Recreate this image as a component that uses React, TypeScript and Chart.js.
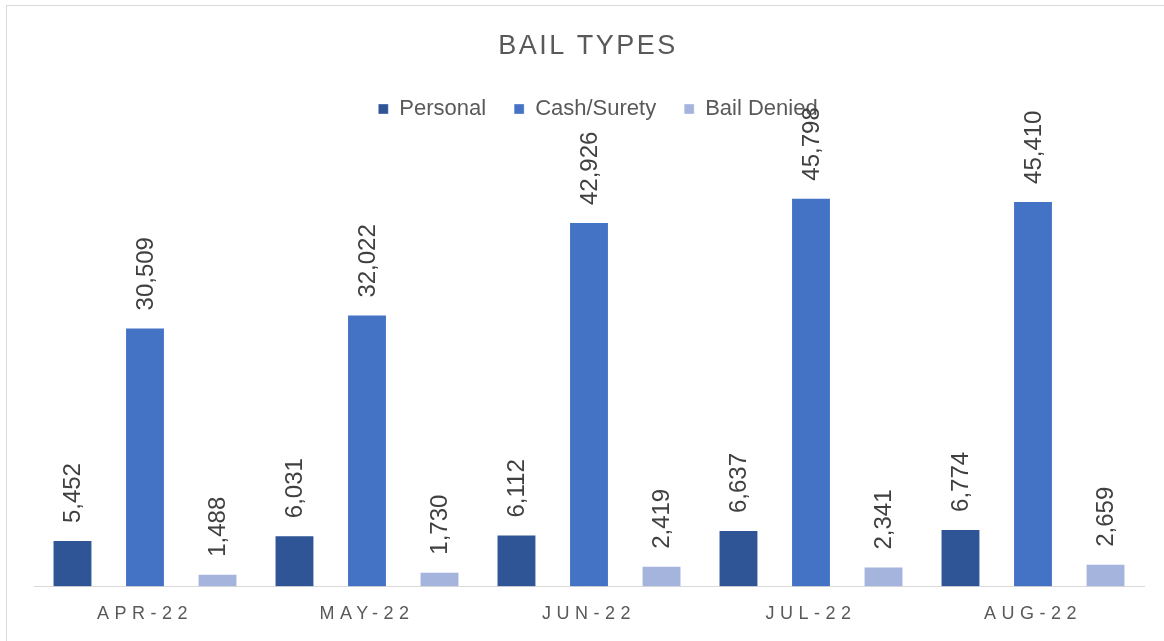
import React, { useEffect, useRef } from "react";
import { Chart, registerables } from "chart.js";

Chart.register(...registerables);

const categories = ["APR-22", "MAY-22", "JUN-22", "JUL-22", "AUG-22"];
const personal = [5452, 6031, 6112, 6637, 6774];
const cashSurety = [30509, 32022, 42926, 45798, 45410];
const bailDenied = [1488, 1730, 2419, 2341, 2659];
const seriesNames = ["Personal", "Cash/Surety", "Bail Denied"];
const titleText = "BAIL TYPES";
const yMax = 50000;

const FONT = "'Liberation Sans', Arial, sans-serif";

export default function App() {
  const ref = useRef<HTMLCanvasElement | null>(null);

  useEffect(() => {
    if (!ref.current) return;

    const extras = {
      id: "extras",
      beforeLayout(chart: any) {
        const lg = chart.legend;
        if (lg && !lg._patched) {
          const origFit = lg.fit.bind(lg);
          lg.fit = function () {
            origFit();
            this.height = 92;
          };
          const origDraw = lg.draw.bind(lg);
          lg.draw = function () {
            const c = chart.ctx;
            c.save();
            c.translate(9, 0);
            origDraw();
            c.restore();
          };
          lg._patched = true;
        }
      },
      afterDatasetsDraw(chart: any) {
        const ctx = chart.ctx as CanvasRenderingContext2D;
        ctx.save();
        (ctx as any).letterSpacing = "0px";
        ctx.font = `24px ${FONT}`;
        ctx.fillStyle = "#404040";
        ctx.textAlign = "left";
        ctx.textBaseline = "middle";
        chart.data.datasets.forEach((ds: any, di: number) => {
          const meta = chart.getDatasetMeta(di);
          meta.data.forEach((bar: any, i: number) => {
            const v = ds.data[i] as number;
            ctx.save();
            ctx.translate(bar.x + 1, bar.y - 17);
            ctx.rotate(-Math.PI / 2);
            ctx.fillText(v.toLocaleString("en-US"), 0, 0);
            ctx.restore();
          });
        });
        ctx.restore();
        (ctx as any).letterSpacing = "5.5px";
      },
      afterDraw(chart: any) {
        const ctx = chart.ctx as CanvasRenderingContext2D;
        ctx.save();
        (ctx as any).letterSpacing = "2.5px";
        ctx.font = `27px ${FONT}`;
        ctx.fillStyle = "#595959";
        ctx.textAlign = "center";
        ctx.textBaseline = "middle";
        ctx.fillText(titleText, 588, 47);
        ctx.restore();
        (ctx as any).letterSpacing = "0px";
      },
    };

    const chart = new Chart(ref.current, {
      type: "bar",
      data: {
        labels: categories,
        datasets: [
          {
            label: seriesNames[0],
            data: personal,
            backgroundColor: "#2F5597",
            borderColor: "rgba(255,255,255,0.35)",
            borderWidth: 1,
          },
          {
            label: seriesNames[1],
            data: cashSurety,
            backgroundColor: "#4472C4",
            borderColor: "rgba(255,255,255,0.35)",
            borderWidth: 1,
          },
          {
            label: seriesNames[2],
            data: bailDenied,
            backgroundColor: "#A5B4DC",
            borderColor: "rgba(255,255,255,0.35)",
            borderWidth: 1,
          },
        ],
      },
      options: {
        animation: false,
        responsive: false,
        maintainAspectRatio: false,
        datasets: {
          bar: { categoryPercentage: 0.98, barPercentage: 0.55 },
        },
        layout: { padding: { top: 70, left: 34, right: 20, bottom: 18 } },
        plugins: {
          title: { display: false },
          tooltip: { enabled: false },
          legend: {
            display: true,
            position: "top",
            labels: {
              boxWidth: 10,
              boxHeight: 10,
              padding: 28,
              color: "#595959",
              font: { family: FONT, size: 22 },
            },
          },
        },
        scales: {
          x: {
            grid: { display: false, drawTicks: false },
            border: { display: true, color: "#D9D9D9", width: 1 },
            ticks: {
              z: 1,
              padding: 17,
              maxRotation: 0,
              autoSkip: false,
              color: "#595959",
              font: { family: FONT, size: 18 },
            },
          },
          y: {
            display: false,
            min: 0,
            max: yMax,
            grid: { display: false },
          },
        },
      },
      plugins: [extras],
    });

    return () => chart.destroy();
  }, []);

  return (
    <div
      style={{
        position: "fixed",
        left: 0,
        top: 0,
        width: 1164,
        height: 641,
        overflow: "hidden",
        background: "#fff",
      }}
    >
      <div
        style={{
          position: "absolute",
          left: 6,
          top: 5,
          width: 1180,
          height: 680,
          border: "1px solid #D9D9D9",
          boxSizing: "border-box",
        }}
      />
      <canvas
        ref={ref}
        width={1164}
        height={660}
        style={{ position: "absolute", left: 0, top: 0, width: 1164, height: 660 }}
      />
    </div>
  );
}
